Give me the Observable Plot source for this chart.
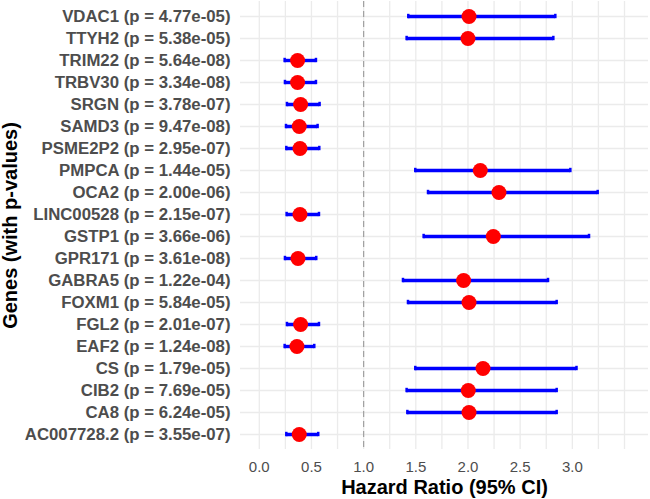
<!DOCTYPE html>
<html>
<head>
<meta charset="utf-8">
<script src="https://cdn.jsdelivr.net/npm/d3@7"></script>
<script src="https://cdn.jsdelivr.net/npm/@observablehq/plot@0.6"></script>
<style>
  html, body { margin: 0; padding: 0; background: #ffffff; }
  #chart svg { display: block; font-family: "Liberation Sans", Arial, sans-serif; }
</style>
</head>
<body>
<div id="chart"></div>
<script>
const genes = ["VDAC1","TTYH2","TRIM22","TRBV30","SRGN","SAMD3","PSME2P2","PMPCA","OCA2","LINC00528","GSTP1","GPR171","GABRA5","FOXM1","FGL2","EAF2","CS","CIB2","CA8","AC007728.2"];
const pValues = ["4.77e-05","5.38e-05","5.64e-08","3.34e-08","3.78e-07","9.47e-08","2.95e-07","1.44e-05","2.00e-06","2.15e-07","3.66e-06","3.61e-08","1.22e-04","5.84e-05","2.01e-07","1.24e-08","1.79e-05","7.69e-05","6.24e-05","3.55e-07"];
const hazardRatio = [2.01,2.00,0.367,0.367,0.396,0.383,0.390,2.118,2.297,0.390,2.243,0.371,1.958,2.010,0.396,0.361,2.144,2.003,2.010,0.383];
const ciLower = [1.428,1.412,0.243,0.246,0.265,0.256,0.259,1.495,1.617,0.262,1.575,0.246,1.377,1.425,0.265,0.243,1.495,1.412,1.419,0.259];
const ciUpper = [2.837,2.818,0.543,0.543,0.578,0.559,0.575,2.981,3.243,0.572,3.160,0.546,2.767,2.850,0.572,0.527,3.040,2.850,2.850,0.565];
const xTicks = [0, 0.5, 1.0, 1.5, 2.0, 2.5, 3.0];
const gridX = [0,0.25,0.5,0.75,1,1.25,1.5,1.75,2,2.25,2.5,2.75,3,3.25,3.5];
const refLine = [1];

const rows = genes.map((g, i) => ({
  label: `${g} (p = ${pValues[i]})`,
  hr: hazardRatio[i], lo: ciLower[i], hi: ciUpper[i]
}));
const labels = rows.map(d => d.label);

const chart = Plot.plot({
  width: 650,
  height: 499,
  marginLeft: 240,
  marginRight: 2,
  marginTop: 1,
  marginBottom: 50,
  style: {background: "#ffffff", overflow: "visible"},
  x: {domain: [-0.18, 3.73]},
  y: {type: "band", domain: labels, paddingInner: 0, paddingOuter: 0.1},
  marks: [
    Plot.ruleX(gridX, {stroke: "#ebebeb", strokeWidth: 1.3}),
    Plot.ruleY(labels, {y: d => d, stroke: "#ebebeb", strokeWidth: 1.6}),
    Plot.ruleX(refLine, {stroke: "#a0a0a0", strokeWidth: 1.2, strokeDasharray: "6,4"}),
    Plot.ruleY(rows, {y: "label", x1: "lo", x2: "hi", stroke: "#0000ff", strokeWidth: 3.4}),
    Plot.tickX(rows, {y: "label", x: "lo", stroke: "#0000ff", strokeWidth: 2.5, insetTop: 8.8, insetBottom: 8.8}),
    Plot.tickX(rows, {y: "label", x: "hi", stroke: "#0000ff", strokeWidth: 2.5, insetTop: 8.8, insetBottom: 8.8}),
    Plot.dot(rows, {y: "label", x: "hr", r: 7.5, fill: "#ff0000", stroke: "none"}),
    Plot.axisX({ticks: xTicks, tickFormat: d3.format(".1f"), tickSize: 0, tickPadding: 12, fontSize: 15, fill: "#4d4d4d", label: null}),
    Plot.axisY({tickSize: 0, tickPadding: 10, fontSize: 16.8, fontWeight: "bold", fill: "#4d4d4d", label: null}),
    Plot.text(["Hazard Ratio (95% CI)"], {frameAnchor: "bottom", dy: 44, fontSize: 20, fontWeight: "bold", fill: "#000000", textAnchor: "middle"}),
    Plot.text(["Genes (with p-values)"], {frameAnchor: "left", dx: -230, rotate: -90, fontSize: 20, fontWeight: "bold", fill: "#000000", textAnchor: "middle"})
  ]
});
document.getElementById("chart").appendChild(chart);
</script>
</body>
</html>
